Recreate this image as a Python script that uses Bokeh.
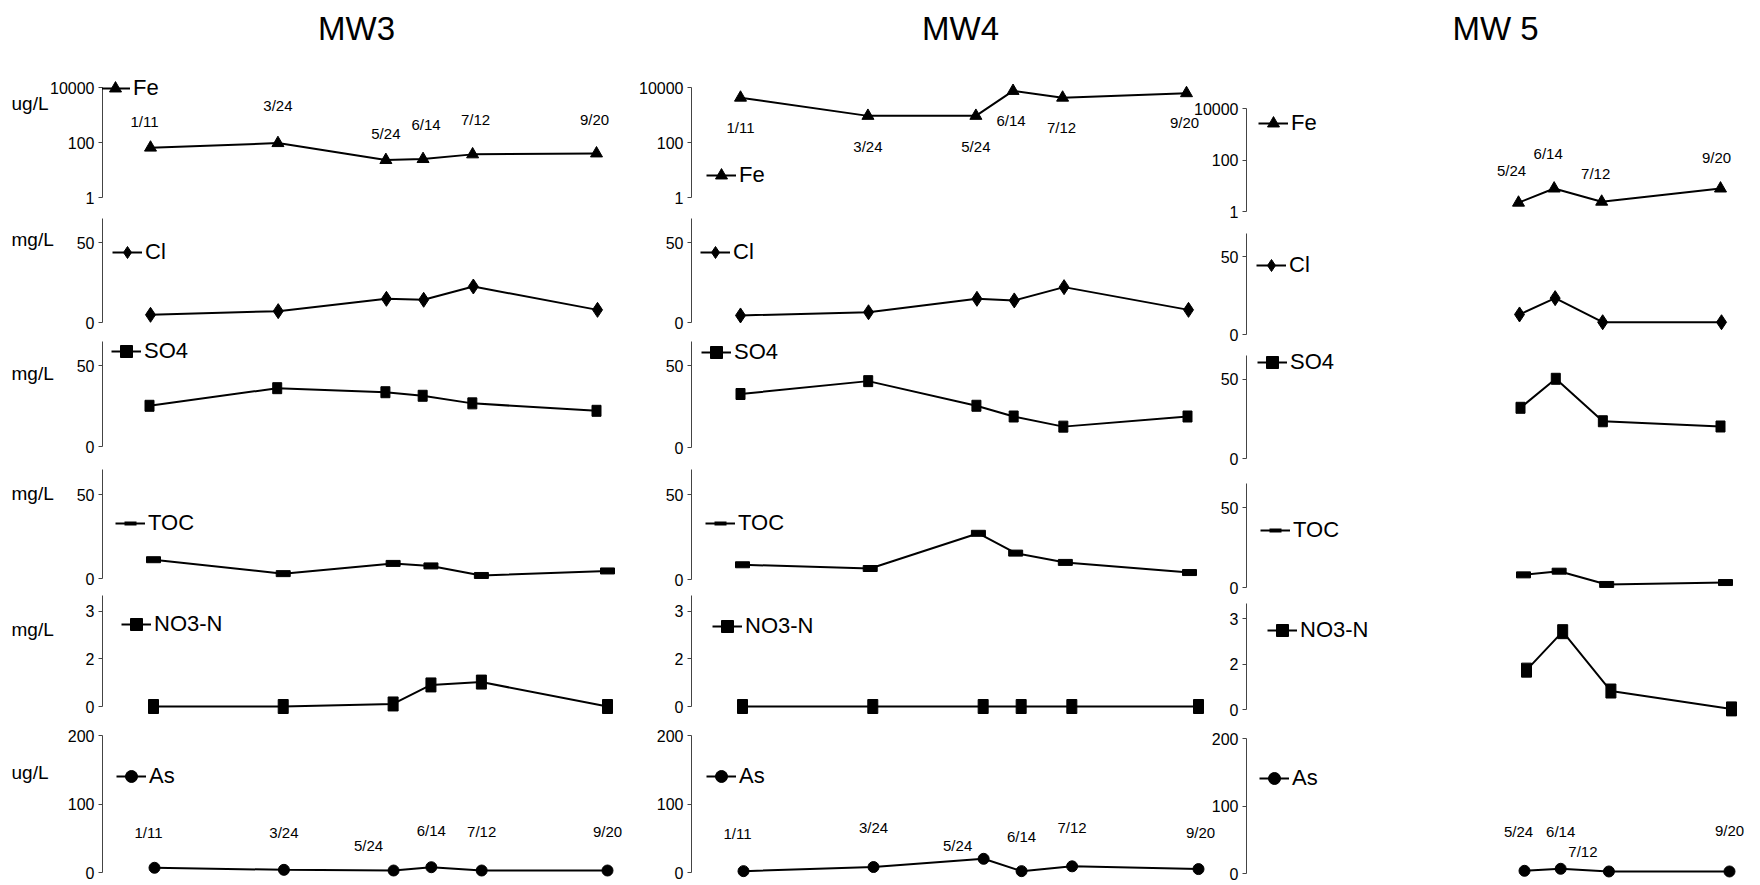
import datetime
import numpy as np
from bokeh.plotting import figure
from bokeh.models import (Range1d, ColumnDataSource, LabelSet, Legend, LegendItem,
                          FixedTicker, CustomJSTickFormatter)
from bokeh.layouts import row, column
from bokeh.embed import file_html
from bokeh.resources import INLINE
from bokeh.core.properties import value

# ---------------- data ----------------
WELLS = ["MW3", "MW4", "MW 5"]
DATES_MW3 = ["1/11", "3/24", "5/24", "6/14", "7/12", "9/20"]
DATES_MW4 = ["1/11", "3/24", "5/24", "6/14", "7/12", "9/20"]
DATES_MW5 = ["5/24", "6/14", "7/12", "9/20"]
YEAR = 2007

FE_MW3 = [65, 95, 23, 25, 37, 40]
FE_MW4 = [4260, 930, 930, 7500, 4260, 6200]
FE_MW5 = [2.2, 7.8, 2.4, 7.8]
CL_MW3 = [4.8, 7.1, 14.8, 14.2, 22.5, 7.9]
CL_MW4 = [4.4, 6.4, 14.8, 13.8, 22.1, 7.9]
CL_MW5 = [12.9, 23.4, 7.9, 7.9]
SO4_MW3 = [25.2, 36.1, 33.6, 31.4, 26.7, 22.1]
SO4_MW4 = [32.8, 40.7, 25.6, 19.0, 12.8, 19.0]
SO4_MW5 = [32.0, 50.3, 23.5, 20.2]
TOC_MW3 = [11.2, 2.9, 9.0, 7.5, 1.8, 4.5]
TOC_MW4 = [8.7, 6.5, 27.3, 15.6, 10.1, 4.1]
TOC_MW5 = [7.9, 10.2, 1.9, 3.1]
NO3_MW3 = [0, 0, 0.08, 0.68, 0.77, 0]
NO3_MW4 = [0, 0, 0, 0, 0, 0]
NO3_MW5 = [1.30, 2.57, 0.61, 0.02]
AS_MW3 = [6.9, 3.9, 2.9, 7.7, 2.9, 2.9]
AS_MW4 = [2, 8, 20, 2, 9, 5]
AS_MW5 = [4, 7, 3, 3]

ANALYTES = ["Fe", "Cl", "SO4", "TOC", "NO3-N", "As"]
UNITS = ["ug/L", "mg/L", "mg/L", "mg/L", "mg/L", "ug/L"]
AXIS_LO = [1, 0, 0, 0, 0, 0]
AXIS_HI = [10000, 65, 65, 65, 3.5, 200]
TICKS = [[1, 100, 10000], [0, 50], [0, 50], [0, 50], [0, 1.5, 3], [0, 100, 200]]
TICK_LABELS = [["1", "100", "10000"], ["0", "50"], ["0", "50"], ["0", "50"],
               ["0", "2", "3"], ["0", "100", "200"]]

DATES = [DATES_MW3, DATES_MW4, DATES_MW5]
VALUES = [
    [FE_MW3, FE_MW4, FE_MW5],
    [CL_MW3, CL_MW4, CL_MW5],
    [SO4_MW3, SO4_MW4, SO4_MW5],
    [TOC_MW3, TOC_MW4, TOC_MW5],
    [NO3_MW3, NO3_MW4, NO3_MW5],
    [AS_MW3, AS_MW4, AS_MW5],
]

# ---------------- layout (page pixels) ----------------
FONT = "Liberation Sans"
TOTAL_W = 1758
TITLE_BAND = (0, 68)
ROWS = [(68, 222), (212, 344), (336, 470), (462, 598), (590, 724), (720, 883)]
UNITS_SPAN = (0, 70)
FIG_SPANS = [(40, 650), (630, 1225), (1180, TOTAL_W)]
# (axis x, x of first date, x of last date, y of axis top, y of axis bottom)
GEOM = {
    (0, 0): (102, 150, 596, 87, 197), (0, 1): (691, 740, 1186, 87, 197), (0, 2): (1246, 1518, 1720, 108, 211),
    (1, 0): (102, 150, 597, 218, 322), (1, 1): (691, 740, 1188, 218, 322), (1, 2): (1246, 1519, 1721, 233, 334),
    (2, 0): (102, 149, 596, 341, 446), (2, 1): (691, 740, 1187, 341, 447), (2, 2): (1246, 1520, 1720, 355, 458),
    (3, 0): (102, 153, 607, 469, 578), (3, 1): (691, 742, 1189, 469, 579), (3, 2): (1246, 1523, 1725, 483, 587),
    (4, 0): (102, 153, 607, 595, 706), (4, 1): (691, 742, 1198, 595, 706), (4, 2): (1246, 1526, 1731, 603, 709),
    (5, 0): (102, 154, 607, 735, 872), (5, 1): (691, 743, 1198, 735, 872), (5, 2): (1246, 1524, 1729, 738, 873),
}
LEGEND_POS = {
    (0, 0): (100, 88), (0, 1): (706, 175), (0, 2): (1258, 123),
    (1, 0): (112, 252), (1, 1): (700, 252), (1, 2): (1256, 265),
    (2, 0): (111, 351), (2, 1): (701, 352), (2, 2): (1257, 362),
    (3, 0): (115, 523), (3, 1): (705, 523), (3, 2): (1260, 530),
    (4, 0): (121, 624), (4, 1): (712, 626), (4, 2): (1267, 630),
    (5, 0): (116, 776), (5, 1): (706, 776), (5, 2): (1259, 778),
}
LABEL_OFFSETS = {
    (0, 0): ([-6, 0, 0, 3, 3, -2], [26, 38, 27, 35, 35, 34]),
    (0, 1): ([0, 0, 0, -2, -1, -2], [-30, -31, -31, -30, -30, -29]),
    (0, 2): ([-7, -6, -6, -4], [32, 35, 28, 31]),
    (5, 0): ([-6, 0, -25, 0, 0, 0], [35, 37, 25, 37, 39, 39]),
    (5, 1): ([-6, 0, -26, 0, 0, 2], [38, 40, 13, 35, 39, 37]),
    (5, 2): ([-6, 0, -26, 0], [39, 37, 20, 41]),
}
UNIT_X = 11
UNIT_BASELINE = [103, 239, 373, 493, 629, 772]
TITLE_X = [356, 960, 1495]
TITLE_Y = 28

MARK = [
    dict(kind="scatter", marker="triangle", size=12),
    dict(kind="scatter", marker="diamond", size=15),
    dict(kind="rect", w=9, h=11, legend_marker="square", lw=1),
    dict(kind="rect", w=14, h=6, legend_marker="dash", lw=4),
    dict(kind="rect", w=10, h=14, legend_marker="square", lw=1),
    dict(kind="scatter", marker="circle", size=11),
]


def doy(s):
    m, d = (int(t) for t in s.split("/"))
    return datetime.date(YEAR, m, d).timetuple().tm_yday


def bare(p):
    p.outline_line_color = None
    p.grid.visible = False
    p.background_fill_alpha = 0
    p.border_fill_alpha = 0
    return p


def blank_fig(width, top, bot, x_range, margin_left=0):
    f = figure(width=width, height=bot - top,
               x_range=Range1d(*x_range), y_range=Range1d(bot, top),
               x_axis_location=None, y_axis_location=None, toolbar_location=None,
               output_backend="svg", title=None,
               min_border_left=0, min_border_right=0, min_border_top=0, min_border_bottom=0,
               margin=(0, 0, 0, margin_left))
    return bare(f)


def make_units(r):
    top, bot = ROWS[r]
    u = blank_fig(UNITS_SPAN[1] - UNITS_SPAN[0], top, bot, UNITS_SPAN)
    u.text(x=[UNIT_X], y=[UNIT_BASELINE[r]], text=[UNITS[r]], text_font=value(FONT),
           text_font_size="19px", text_align="left", text_baseline="alphabetic",
           text_color="black")
    return u


def make_panel(r, c):
    dates = DATES[c]
    vals = VALUES[r][c]
    left, right = FIG_SPANS[c]
    prev_right = FIG_SPANS[c - 1][1] if c > 0 else UNITS_SPAN[1]
    top, bot = ROWS[r]
    axis_x, x_first, x_last, y_hi, y_lo = GEOM[(r, c)]
    days = [doy(s) for s in dates]
    sx = (x_last - x_first) / (days[-1] - days[0])
    x0 = days[0] - (x_first - axis_x) / sx
    x1 = days[-1] + (right - x_last) / sx
    log = (r == 0)
    fwd = (lambda v: np.log10(v)) if log else (lambda v: v)
    inv = (lambda v: 10 ** v) if log else (lambda v: v)
    lo, hi = AXIS_LO[r], AXIS_HI[r]
    k = (fwd(hi) - fwd(lo)) / (y_lo - y_hi)
    y0 = inv(fwd(lo) - (bot - y_lo) * k)
    y1 = inv(fwd(hi) + (y_hi - top) * k)

    p = figure(width=right - left, height=bot - top,
               x_range=Range1d(x0, x1), y_range=Range1d(y0, y1),
               y_axis_type="log" if log else "linear", x_axis_location=None, title=None,
               toolbar_location=None, output_backend="svg",
               min_border_left=axis_x - left, min_border_right=0,
               min_border_top=0, min_border_bottom=0,
               margin=(0, 0, 0, left - prev_right))
    bare(p)

    ax = p.yaxis[0]
    ax.bounds = (lo, hi)
    ax.ticker = FixedTicker(ticks=TICKS[r], minor_ticks=[])
    ax.formatter = CustomJSTickFormatter(
        args=dict(t=TICKS[r], l=TICK_LABELS[r]),
        code="const i = t.indexOf(tick); return i >= 0 ? l[i] : '';")
    ax.axis_line_color = "#444444"
    ax.major_tick_line_color = "#444444"
    ax.minor_tick_line_color = None
    ax.major_tick_out = 4
    ax.major_tick_in = 0
    ax.major_label_standoff = 4
    ax.major_label_text_font = FONT
    ax.major_label_text_font_size = "16px"
    ax.major_label_text_color = "black"

    data = dict(x=days, y=vals, date=dates)
    if (r, c) in LABEL_OFFSETS:
        data["dx"], data["dy"] = LABEL_OFFSETS[(r, c)]
    src = ColumnDataSource(data)
    ln = p.line("x", "y", source=src, line_color="black", line_width=2)
    m = MARK[r]
    if m["kind"] == "scatter":
        mk = p.scatter("x", "y", source=src, marker=m["marker"], size=m["size"],
                       fill_color="black", line_color="black")
        leg_r = [ln, mk]
    else:
        p.rect("x", "y", width=m["w"], height=m["h"], width_units="screen",
               height_units="screen", source=src, fill_color="black", line_color="black")
        lm = p.scatter("x", "y", source=src, marker=m["legend_marker"], size=0,
                       fill_color="black", line_color="black", line_width=m["lw"])
        leg_r = [ln, lm]

    lx, ly = LEGEND_POS[(r, c)]
    gh = 30
    leg = Legend(items=[LegendItem(label=value(ANALYTES[r]), renderers=leg_r)],
                 location=(lx - axis_x, bot - ly - gh // 2), orientation="vertical",
                 glyph_width=30, glyph_height=gh, label_height=gh, label_standoff=3,
                 padding=0, margin=0, spacing=0, border_line_color=None,
                 background_fill_alpha=0, label_text_font=FONT,
                 label_text_font_size="22px", label_text_color="black")
    p.add_layout(leg)

    if (r, c) in LABEL_OFFSETS:
        ls = LabelSet(x="x", y="y", text="date", x_offset="dx", y_offset="dy", source=src,
                      text_align="center", text_baseline="middle", text_font=value(FONT),
                      text_font_size="15px", text_color="black")
        p.add_layout(ls)
    return p


# title strip
tf = blank_fig(TOTAL_W, TITLE_BAND[0], TITLE_BAND[1], (0, TOTAL_W))
tf.text(x=TITLE_X, y=[TITLE_Y] * 3, text=WELLS, text_font=value(FONT),
        text_font_size="33px", text_align="center", text_baseline="middle", text_color="black")

rows = []
prev_bot = TITLE_BAND[1]
for r in range(6):
    rows.append(row(make_units(r), *[make_panel(r, c) for c in range(3)], spacing=0,
                    margin=(ROWS[r][0] - prev_bot, 0, 0, 0)))
    prev_bot = ROWS[r][1]
layout = column(tf, *rows, spacing=0)

open("out.html", "w").write(file_html(layout, INLINE))
